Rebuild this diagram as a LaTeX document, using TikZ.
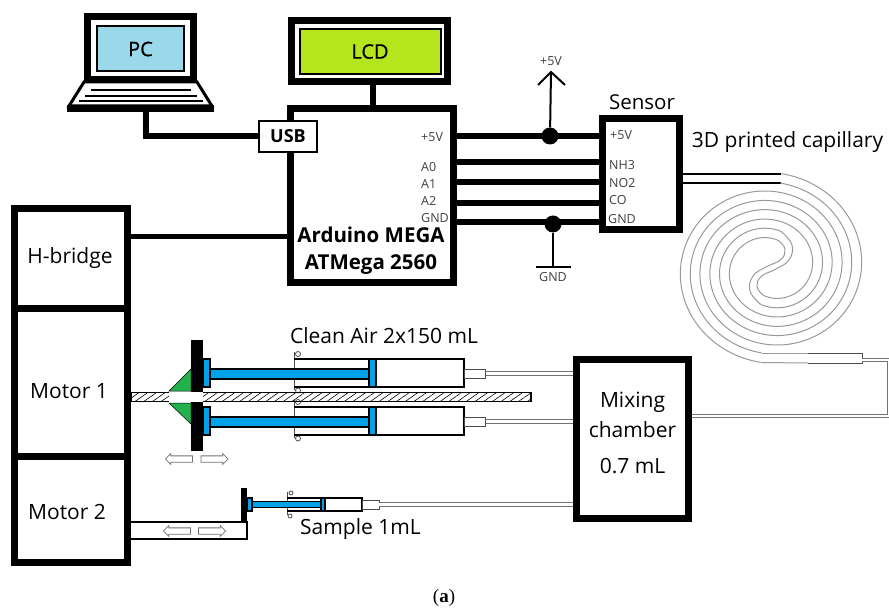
\documentclass[tikz,border=0pt]{standalone}
\usepackage{fontspec}
\setmainfont{Open Sans}
\newfontfamily\capfont{Liberation Serif}
\newfontfamily\medfont[FakeBold=0.7]{Open Sans}
\usetikzlibrary{shapes.arrows,patterns.meta}

\definecolor{screenblue}{HTML}{99D9EA}
\definecolor{lcdgreen}{HTML}{B5E61D}
\definecolor{pistonblue}{HTML}{00A2E8}
\definecolor{wedgegreen}{HTML}{22B14C}

\tikzset{
  unitbox/.style={draw,line width=7pt,inner sep=0pt,fill=white},
  wire/.style={line width=6pt},
  pinlabel/.style={font=\fontsize{12.5}{14}\selectfont,text=black!75,inner sep=0pt,anchor=west},
  bigtext/.style={font=\fontsize{21}{30}\selectfont,inner sep=0pt},
  tubeline/.style={draw=black!55,line width=.8pt,double=white,double distance=2.8pt},
  spiralwall/.style={draw=black!40,line width=1pt},
  openarrow/.style={single arrow,draw=black!55,fill=white,line width=.8pt,inner xsep=0pt,inner ysep=2.75pt,
    minimum height=27pt,single arrow head extend=2.2pt,single arrow head indent=0pt},
}

\begin{document}
\begin{tikzpicture}[x=1pt,y=-1pt]
  \useasboundingbox (0,0) rectangle (889,612);

  % computer
  \node[unitbox,minimum width=106pt,minimum height=63pt] (laptop) at (140.5,48) {};
  \node[draw,line width=2pt,fill=screenblue,minimum width=87pt,minimum height=45pt,inner sep=0pt,
    font=\medfont\fontsize{20}{20}\selectfont] (pc) at (140.5,49) {PC};
  \draw[line width=3pt,fill=white] (84,82) -- (69,106) -- (212,106) -- (197,82) -- cycle;
  \node[fill=black,minimum width=147pt,minimum height=7pt,inner sep=0pt] (pcbase) at (140.5,108.5) {};
  \draw[line width=2pt] (91,90) -- (191,90);
  \draw[line width=2pt] (85,96) -- (197,96);
  \draw[line width=2pt] (79,101) -- (203,101);

  % controller and display
  \node[unitbox,minimum width=163pt,minimum height=174pt] (arduino) at (372,196) {};
  \node[unitbox,minimum width=156pt,minimum height=61pt] (lcdframe) at (369.5,51) {};
  \node[draw,line width=2pt,fill=lcdgreen,minimum width=141pt,minimum height=45pt,inner sep=0pt,
    font=\medfont\fontsize{20}{20}\selectfont] (lcd) at (370,51.5) {LCD};
  \draw[wire] (373,85) -- (373,106);
  \node[draw,line width=2pt,fill=white,minimum width=58pt,minimum height=31pt,inner sep=0pt,
    font=\fontsize{18}{20}\selectfont\bfseries] (usb) at (288,136.5) {USB};
  \draw[wire] ([xshift=5.5pt]pcbase.south) |- (usb.west);

  \node[font=\fontsize{20.5}{24}\selectfont\bfseries,inner sep=0pt] (ardname) at (371,235) {Arduino MEGA};
  \node[font=\fontsize{20.5}{24}\selectfont\bfseries,inner sep=0pt] (ardchip) at (371,265) {ATMega 2560};
  \node[pinlabel] (ard5v) at (421,137) {+5V};
  \node[pinlabel] (ardA0) at (421,167) {A0};
  \node[pinlabel] (ardA1) at (421,184) {A1};
  \node[pinlabel] (ardA2) at (421,201) {A2};
  \node[pinlabel] (ardgnd) at (421,218) {GND};

  % sensor
  \node[unitbox,minimum width=77pt,minimum height=111pt] (sensor) at (640.5,174.5) {};
  \node[bigtext,font=\fontsize{20.5}{24}\selectfont] (sensortitle) at (642,102) {Sensor};
  \node[pinlabel] (sen5v) at (610,135) {+5V};
  \node[pinlabel] (senNH) at (609,165) {NH3};
  \node[pinlabel] (senNO) at (609,183) {NO2};
  \node[pinlabel] (senCO) at (609,200) {CO};
  \node[pinlabel] (sengnd) at (608,219) {GND};

  \coordinate (pin5v) at (500,136);
  \coordinate (pinA0) at (500,162);
  \coordinate (pinA1) at (500,182);
  \coordinate (pinA2) at (500,203);
  \coordinate (pingnd) at (500,222);
  \foreach \pin in {pin5v,pinA0,pinA1,pinA2,pingnd}
    \draw[wire] (arduino.east |- \pin) -- (sensor.west |- \pin);

  % supply and ground
  \node[circle,fill=black,minimum size=17pt,inner sep=0pt] (dot5v) at (550,136) {};
  \node[circle,fill=black,minimum size=17pt,inner sep=0pt] (dotgnd) at (553,224) {};
  \coordinate (vtip) at (551,72);
  \coordinate (gndfoot) at (553,267);
  \draw[line width=2pt] (dot5v) -- (vtip);
  \draw[line width=2pt] (538,85) -- (vtip) -- (565,85);
  \draw[line width=2pt] (dotgnd) -- (gndfoot);
  \draw[line width=2pt] (536,267) -- (571,267);
  \node[pinlabel,anchor=center] (vlabel) at (551,61) {+5V};
  \node[pinlabel,anchor=center] (gndlabel) at (553,277) {GND};

  % capillary
  \node[bigtext] (captitle) at (787.5,142) {3D printed capillary};
  \coordinate (capA) at (781,174);
  \coordinate (capB) at (781,183.5);
  \draw[line width=2pt] (sensor.east |- capA) -- (capA);
  \draw[line width=2pt] (sensor.east |- capB) -- (capB);
  \foreach \turn in {0,180} {
    \begin{scope}[shift={(771,268)},rotate=\turn]
      \draw[spiralwall] plot[domain=6:555,samples=260,variable=\t]
        ({1.05*(95.5-.104*\t)*sin(\t)},{-(95.5-.104*\t)*cos(\t)});
      \draw[spiralwall] plot[domain=6:555,samples=260,variable=\t]
        ({1.05*(86-.104*\t)*sin(\t)},{-(86-.104*\t)*cos(\t)});
      \draw[spiralwall] plot[smooth,tension=.7] coordinates
        {(-10.3,36.5) (-21,23) (-18,8) (-5,-1) (10,-8.5) (14,-19) (7.7,-27.3)};
    \end{scope}
  }
  \draw[spiralwall] (761,362.5) -- (808,363);
  \draw[spiralwall] (762,353) -- (808,353);
  \draw[draw=black!70,line width=1pt] (808,353) -- (862,353) -- (862,363) -- (808,363);
  \coordinate (capout) at (862,360);

  % motors
  \node[unitbox,minimum width=113pt,minimum height=100.5pt] (hbridge) at (71,258.75) {};
  \node[unitbox,minimum width=113pt,minimum height=147pt] (motorone) at (71,382.5) {};
  \node[unitbox,minimum width=113pt,minimum height=106.5pt] (motortwo) at (71,509.25) {};
  \node[bigtext] (hbridgetext) at (70,258) {H-bridge};
  \node[bigtext] (motoronetext) at (69,391) {Motor 1};
  \node[bigtext] (motortwotext) at (67,512) {Motor 2};
  \draw[line width=5pt] (hbridge.east |- 0,237) -- (arduino.west |- 0,237);

  % mixing chamber
  \node[unitbox,minimum width=112pt,minimum height=159pt] (mix) at (632.5,439) {};
  \node[bigtext,align=center] (mixtext) at (632.5,433) {Mixing\\chamber\\[6pt]0.7 mL};
  \coordinate (mixout) at (889,416);
  \draw[tubeline] (capout) -- (889,360) -- (mixout) -- (mix.east |- mixout);

  % air syringes
  \foreach \yy/\sname in {0/up,48/low} {
    \begin{scope}[shift={(0,\yy)}]
      \draw[line width=1pt,draw=black!70] (294,352) -- (294,390);
      \draw[line width=.8pt,draw=black!70,fill=white] (298,354) circle (2.5);
      \draw[line width=.8pt,draw=black!70,fill=white] (298,390.5) circle (2.5);
      \draw[line width=1.5pt] (294,359) -- (369,359);
      \draw[line width=1.5pt] (294,387) -- (369,387);
      \draw[line width=2pt,fill=white] (369,359) rectangle (464,387);
      \node[draw=black!70,line width=1pt,fill=white,minimum width=21pt,minimum height=9pt,inner sep=0pt] (nozzle\sname) at (474.5,373.5) {};
      \draw[tubeline] (nozzle\sname.east) -- (nozzle\sname.east -| mix.west);
      \draw[line width=2pt,fill=pistonblue] (203,359) rectangle (209.5,387);
      \draw[line width=2pt,fill=pistonblue] (209.5,368.5) rectangle (369,378.5);
      \draw[line width=2pt,fill=pistonblue] (369,359) rectangle (375.5,387);
    \end{scope}
  }

  % drive rod
  \fill[black] (191,340) rectangle (203,451);
  \draw[line width=.5pt,fill=wedgegreen] (169,391) -- (191,369) -- (191,391) -- cycle;
  \draw[line width=.5pt,fill=wedgegreen] (169,403) -- (191,424) -- (191,403) -- cycle;
  \draw[line width=1.5pt,pattern={Lines[angle=35,distance=5pt,line width=.6pt]}] (131,392.5) rectangle (531,401.5);
  \fill[white] (169,392) rectangle (203,402);
  \node[bigtext] (cleanair) at (384,336) {Clean Air 2x150 mL};
  \node[openarrow,shape border rotate=180] (backone) at (180.5,459) {};
  \node[openarrow] (foreone) at (213,459) {};

  % sample syringe
  \draw[line width=2pt] (motortwo.east |- 0,522) -- (247,522) -- (247,539) -- (motortwo.east |- 0,539);
  \fill[black] (241,488) rectangle (247,522);
  \draw[line width=1pt,draw=black!70] (287,492) -- (287,515);
  \draw[line width=.8pt,draw=black!70,fill=white] (291,493) circle (2);
  \draw[line width=.8pt,draw=black!70,fill=white] (290,516) circle (2);
  \draw[line width=1.2pt] (287,498) -- (321,498);
  \draw[line width=1.2pt] (287,511) -- (321,511);
  \draw[line width=1.5pt,fill=white] (321,498) rectangle (362,511);
  \node[draw=black!70,line width=.8pt,fill=white,minimum width=17pt,minimum height=9pt,inner sep=0pt] (nozzlesample) at (370.5,504.5) {};
  \draw[tubeline,double distance=2.5pt] (nozzlesample.east) -- (nozzlesample.east -| mix.west);
  \draw[line width=1.5pt,fill=pistonblue] (247,498) rectangle (252,511);
  \draw[line width=1.5pt,fill=pistonblue] (252,501.5) rectangle (321,507.5);
  \draw[line width=1.5pt,fill=pistonblue] (321,498) rectangle (325,511);
  \node[bigtext,anchor=west] (sampletext) at (300,529) {Sample 1mL};
  \node[openarrow,shape border rotate=180] (backtwo) at (178.5,531) {};
  \node[openarrow] (foretwo) at (210.5,531) {};

  \node[inner sep=0pt,font=\capfont\fontsize{19}{22}\selectfont] (caption) at (444,598) {({\bfseries a})};
\end{tikzpicture}
\end{document}
